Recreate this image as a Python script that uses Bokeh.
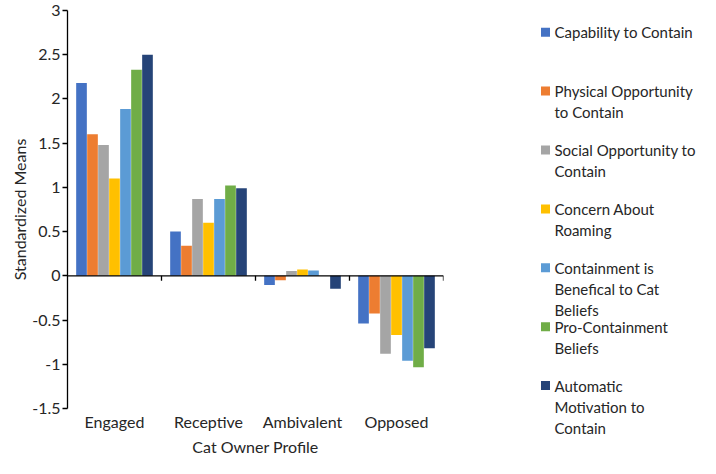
from bokeh.plotting import figure
from bokeh.models import Range1d, FixedTicker, ColumnDataSource
from bokeh.layouts import row
from bokeh.transform import dodge
from bokeh.embed import file_html
from bokeh.resources import INLINE
from bokeh.core.properties import value

# ---------------- data ----------------
categories = ["Engaged", "Receptive", "Ambivalent", "Opposed"]
series_names = [
    "Capability to Contain",
    "Physical Opportunity to Contain",
    "Social Opportunity to Contain",
    "Concern About Roaming",
    "Containment is Benefical to Cat Beliefs",
    "Pro-Containment Beliefs",
    "Automatic Motivation to Contain",
]
legend_labels = [
    ["Capability to Contain"],
    ["Physical Opportunity", "to Contain"],
    ["Social Opportunity to", "Contain"],
    ["Concern About", "Roaming"],
    ["Containment is", "Benefical to Cat", "Beliefs"],
    ["Pro-Containment", "Beliefs"],
    ["Automatic", "Motivation to", "Contain"],
]
capability = [2.18, 0.50, -0.105, -0.54]
physical_opportunity = [1.60, 0.34, -0.05, -0.425]
social_opportunity = [1.48, 0.87, 0.055, -0.88]
concern_roaming = [1.10, 0.60, 0.073, -0.67]
containment_beneficial = [1.885, 0.87, 0.06, -0.96]
pro_containment = [2.33, 1.02, 0.0, -1.035]
automatic_motivation = [2.50, 0.99, -0.145, -0.82]
series_values = [capability, physical_opportunity, social_opportunity,
                 concern_roaming, containment_beneficial, pro_containment,
                 automatic_motivation]
colors = ["#4472C4", "#ED7D31", "#A5A5A5", "#FFC000", "#5B9BD5", "#70AD47", "#264478"]
y_ticks = [-1.5, -1.0, -0.5, 0.0, 0.5, 1.0, 1.5, 2.0, 2.5, 3.0]

FONT = "Lato"
TXT = "#262626"
FS = "16px"

# ---------------- main chart ----------------
x_centers = [i + 0.5 for i in range(len(categories))]
src_data = {"x": x_centers}
for j, vals in enumerate(series_values):
    src_data[f"s{j}"] = vals
src = ColumnDataSource(src_data)

p = figure(width=530, height=458, output_backend="svg", toolbar_location=None,
           x_range=Range1d(0, 4), y_range=Range1d(-1.5, 3.0),
           min_border_left=67, min_border_right=87, min_border_top=10,
           min_border_bottom=50)
p.outline_line_color = None
p.xgrid.visible = False
p.ygrid.visible = False

bar_w = 0.117
n = len(series_values)
for j in range(n):
    off = (j - (n - 1) / 2) * bar_w
    p.vbar(x=dodge("x", off), top=f"s{j}", bottom=0, width=bar_w * 0.97,
           source=src, fill_color=colors[j], line_color=None)

# zero line with category boundary ticks
p.segment(x0=[0], y0=[0], x1=[4], y1=[0], line_color="#000000", line_width=1.3)
p.ray(x=[1, 2, 3, 4], y=[0, 0, 0, 0], length=5, length_units="screen",
      angle=-1.5708, line_color="#000000", line_width=1.3)

# y axis
ya = p.yaxis[0]
ya.ticker = FixedTicker(ticks=y_ticks)
ya.major_label_overrides = {t: f"{t:g}" for t in y_ticks}
ya.axis_line_color = "#000000"
ya.axis_line_width = 1.3
ya.major_tick_line_color = "#000000"
ya.major_tick_line_width = 1.3
ya.major_tick_out = 5
ya.major_tick_in = 0
ya.minor_tick_line_color = None
ya.minor_tick_out = 0
ya.minor_tick_in = 0
ya.major_label_standoff = 2
ya.major_label_text_font = FONT
ya.major_label_text_font_size = FS
ya.major_label_text_color = TXT
ya.axis_label = "Standardized Means"
ya.axis_label_text_font = FONT
ya.axis_label_text_font_size = FS
ya.axis_label_text_font_style = "normal"
ya.axis_label_text_color = TXT
ya.axis_label_standoff = 0

# x axis
xa = p.xaxis[0]
xa.ticker = FixedTicker(ticks=x_centers)
xa.major_label_overrides = {x: c for x, c in zip(x_centers, categories)}
xa.axis_line_color = None
xa.major_tick_line_color = None
xa.minor_tick_line_color = None
xa.major_tick_out = 0
xa.major_tick_in = 0
xa.minor_tick_out = 0
xa.minor_tick_in = 0
xa.major_label_standoff = 3
xa.major_label_text_font = FONT
xa.major_label_text_font_size = FS
xa.major_label_text_color = TXT
xa.axis_label = "Cat Owner Profile"
xa.axis_label_text_font = FONT
xa.axis_label_text_font_size = FS
xa.axis_label_text_font_style = "normal"
xa.axis_label_text_color = TXT
xa.axis_label_standoff = 3

# ---------------- legend panel ----------------
LW, LH = 170, 458
lg = figure(width=LW, height=LH, output_backend="svg", toolbar_location=None,
            x_range=Range1d(0, LW), y_range=Range1d(LH, 0),
            x_axis_type=None, y_axis_type=None, min_border=0)
lg.outline_line_color = None
lg.grid.visible = False
for fig in (p, lg):
    try:
        fig.frame_align = False
    except Exception:
        pass

item_y0, item_step, line_h = 31.7, 58.9, 21.0
sq_x, sq_size, txt_x = 15.0, 9, 24
sq_y = [item_y0 + i * item_step for i in range(len(series_names))]
lg.scatter(x=[sq_x] * len(sq_y), y=sq_y, marker="square", size=sq_size,
           fill_color=colors, line_color=None)
tx, ty, tt = [], [], []
for i, lines in enumerate(legend_labels):
    for k, ln in enumerate(lines):
        tx.append(txt_x)
        ty.append(sq_y[i] + k * line_h)
        tt.append(ln)
lg.text(x=tx, y=ty, text=tt, text_font=value(FONT), text_font_size="15px",
        text_color=TXT, text_baseline="middle", text_align="left")

layout = row(p, lg)
open("out.html", "w").write(file_html(layout, INLINE))
